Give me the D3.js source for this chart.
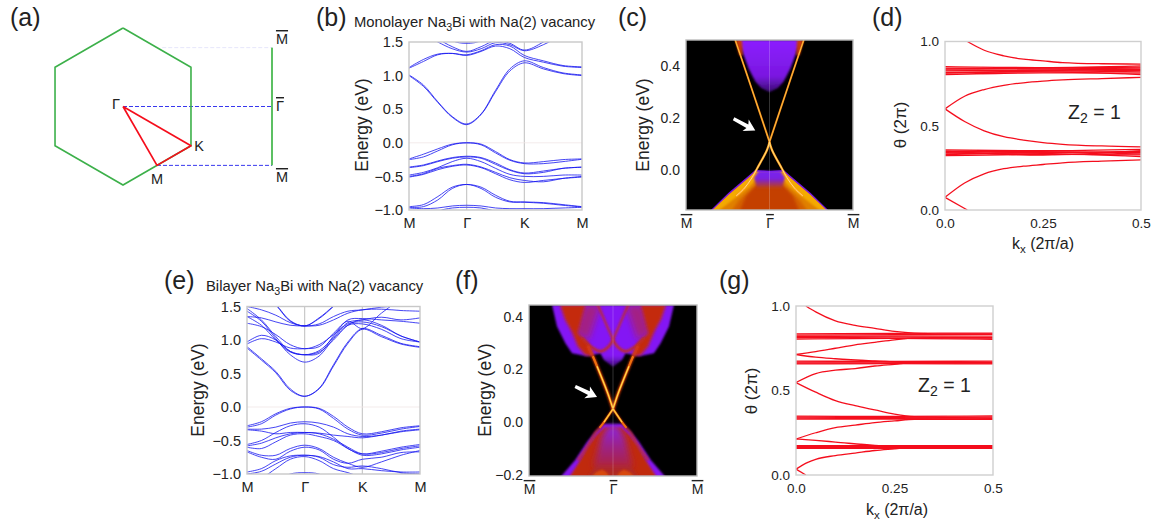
<!DOCTYPE html>
<html>
<head>
<meta charset="utf-8">
<script src="https://cdn.jsdelivr.net/npm/d3@7"></script>
<style>
body { margin: 0; background: #fff; }
text { font-family: "Liberation Sans", Arial, sans-serif; fill: #222; }
.bar { text-decoration: overline; }
</style>
</head>
<body>
<svg id="fig" width="1157" height="525"></svg>
<script>
// --- data ---
let pathTicks = [0, 1, 2, 3];
let pathLabels = ['M', 'Γ', 'K', 'M'];
let kSamples = [0, 0.25, 0.5, 0.75, 1, 1.25, 1.5, 1.75, 2, 2.33, 2.67, 3];
let energyTicks = [-1, -0.5, 0, 0.5, 1, 1.5];

let monoConduction = [
    [1.00, 0.84, 0.60, 0.38, 0.27, 0.42, 0.76, 1.07, 1.19, 1.10, 1.03, 1.00],
    [1.01, 0.86, 0.61, 0.39, 0.28, 0.43, 0.78, 1.10, 1.22, 1.12, 1.04, 1.01],
    [1.11, 1.21, 1.31, 1.33, 1.30, 1.36, 1.44, 1.40, 1.27, 1.20, 1.14, 1.12],
    [1.12, 1.24, 1.32, 1.33, 1.31, 1.37, 1.46, 1.44, 1.30, 1.22, 1.15, 1.13],
    [1.70, 1.62, 1.50, 1.40, 1.35, 1.40, 1.49, 1.46, 1.37, 1.46, 1.62, 1.80],
    [1.80, 1.70, 1.55, 1.43, 1.36, 1.43, 1.52, 1.48, 1.38, 1.50, 1.70, 1.90],
    [1.90, 1.80, 1.70, 1.52, 1.48, 1.52, 1.70, 1.80, 1.90, 1.90, 1.90, 1.90],
    [1.95, 1.85, 1.72, 1.54, 1.50, 1.54, 1.72, 1.85, 1.95, 1.95, 1.95, 1.95]
];
let monoValence = [
    [-0.24, -0.17, -0.09, -0.02, 0, -0.02, -0.13, -0.25, -0.30, -0.28, -0.25, -0.24],
    [-0.25, -0.21, -0.12, -0.03, 0, -0.03, -0.15, -0.26, -0.31, -0.31, -0.28, -0.245],
    [-0.36, -0.33, -0.27, -0.22, -0.20, -0.22, -0.30, -0.40, -0.45, -0.42, -0.38, -0.36],
    [-0.37, -0.34, -0.28, -0.23, -0.21, -0.23, -0.32, -0.41, -0.46, -0.44, -0.38, -0.365],
    [-0.48, -0.44, -0.37, -0.28, -0.23, -0.28, -0.38, -0.47, -0.50, -0.50, -0.48, -0.48],
    [-0.50, -0.46, -0.38, -0.34, -0.32, -0.36, -0.44, -0.52, -0.56, -0.58, -0.53, -0.50],
    [-0.51, -0.47, -0.40, -0.35, -0.33, -0.37, -0.46, -0.55, -0.59, -0.56, -0.53, -0.51],
    [-0.95, -0.92, -0.80, -0.66, -0.62, -0.66, -0.78, -0.87, -0.88, -0.89, -0.92, -0.95],
    [-0.96, -0.95, -0.85, -0.68, -0.62, -0.68, -0.81, -0.88, -0.885, -0.90, -0.93, -0.955],
    [-0.97, -0.98, -0.97, -0.94, -0.93, -0.94, -0.97, -0.98, -0.98, -0.98, -0.97, -0.96],
    [-1.30, -1.15, -1.02, -0.97, -0.96, -0.97, -1.02, -1.10, -1.10, -1.10, -1.10, -1.10]
];
let biConduction = [
    [0.90, 0.72, 0.53, 0.27, 0.16, 0.28, 0.63, 0.97, 1.17, 1.07, 0.95, 0.90],
    [0.88, 0.70, 0.51, 0.25, 0.16, 0.27, 0.61, 0.95, 1.16, 1.05, 0.94, 0.89],
    [1.25, 1.20, 1.08, 0.93, 0.87, 0.93, 1.08, 1.24, 1.27, 1.20, 1.06, 0.97],
    [1.35, 1.22, 1.00, 0.82, 0.78, 0.82, 1.00, 1.22, 1.30, 1.22, 1.06, 0.97],
    [1.43, 1.28, 1.02, 0.78, 0.67, 0.76, 1.02, 1.22, 1.24, 1.16, 1.02, 0.97],
    [1.47, 1.30, 1.05, 0.83, 0.78, 0.80, 1.06, 1.30, 1.32, 1.30, 1.28, 1.25],
    [0.97, 1.07, 1.00, 0.83, 0.78, 0.84, 1.04, 1.26, 1.30, 1.34, 1.30, 1.33],
    [0.94, 1.02, 0.97, 0.88, 0.87, 0.90, 1.10, 1.28, 1.17, 1.40, 1.60, 1.70],
    [1.35, 1.33, 1.27, 1.22, 1.21, 1.22, 1.30, 1.40, 1.45, 1.46, 1.44, 1.43],
    [1.90, 1.70, 1.52, 1.28, 1.21, 1.32, 1.50, 1.70, 1.80, 1.85, 1.90, 1.90],
    [1.92, 1.72, 1.53, 1.29, 1.21, 1.33, 1.51, 1.72, 1.82, 1.87, 1.92, 1.92],
    [1.50, 1.45, 1.37, 1.26, 1.21, 1.24, 1.35, 1.43, 1.45, 1.49, 1.51, 1.50]
];
let biValence = [
    [-0.28, -0.22, -0.10, -0.02, 0, -0.02, -0.14, -0.30, -0.40, -0.37, -0.31, -0.28],
    [-0.30, -0.25, -0.12, -0.03, 0, -0.03, -0.17, -0.33, -0.42, -0.39, -0.33, -0.29],
    [-0.33, -0.33, -0.30, -0.24, -0.22, -0.24, -0.30, -0.40, -0.44, -0.42, -0.36, -0.33],
    [-0.34, -0.36, -0.40, -0.38, -0.38, -0.39, -0.42, -0.44, -0.46, -0.42, -0.37, -0.34],
    [-0.56, -0.50, -0.38, -0.28, -0.25, -0.30, -0.45, -0.62, -0.70, -0.66, -0.60, -0.56],
    [-0.58, -0.54, -0.46, -0.40, -0.38, -0.40, -0.48, -0.60, -0.70, -0.68, -0.62, -0.58],
    [-0.60, -0.62, -0.52, -0.42, -0.40, -0.44, -0.50, -0.62, -0.72, -0.70, -0.64, -0.60],
    [-0.65, -0.72, -0.72, -0.62, -0.57, -0.62, -0.75, -0.84, -0.90, -0.82, -0.72, -0.65],
    [-0.67, -0.75, -0.78, -0.66, -0.60, -0.64, -0.78, -0.84, -0.78, -0.75, -0.68, -0.67],
    [-0.97, -0.92, -0.80, -0.73, -0.72, -0.74, -0.82, -0.92, -0.92, -0.95, -0.97, -0.97],
    [-1.00, -0.96, -0.85, -0.75, -0.72, -0.75, -0.86, -0.90, -0.88, -0.92, -0.98, -1.00],
    [-1.05, -1.05, -0.92, -0.78, -0.74, -0.80, -0.92, -0.98, -1.05, -1.10, -1.00, -1.00],
    [-1.25, -1.20, -1.10, -1.00, -0.98, -1.00, -1.10, -1.20, -1.20, -1.20, -1.20, -1.20]
];

// Wannier centre curves, [kx, theta]
let wccD = [
    [[0.057, 1], [0.1, 0.948], [0.15, 0.915], [0.2, 0.895], [0.25, 0.885], [0.3, 0.875], [0.4, 0.868], [0.5, 0.866]],
    [[0, 0.6], [0.05, 0.675], [0.1, 0.715], [0.15, 0.74], [0.2, 0.755], [0.25, 0.765], [0.3, 0.772], [0.4, 0.78], [0.5, 0.787]],
    [[0, 0.6], [0.05, 0.525], [0.1, 0.47], [0.15, 0.435], [0.2, 0.415], [0.25, 0.4], [0.3, 0.39], [0.4, 0.38], [0.5, 0.375]],
    [[0, 0.075], [0.05, 0.16], [0.1, 0.215], [0.15, 0.245], [0.2, 0.26], [0.25, 0.27], [0.3, 0.28], [0.4, 0.29], [0.5, 0.297]],
    [[0, 0.075], [0.057, 0]]
];
let flatD = [
    [0.851, 0.845, 0.855], [0.842, 0.838, 0.842], [0.826, 0.832, 0.835], [0.816, 0.824, 0.828],
    [0.804, 0.814, 0.812], [0.832, 0.828, 0.82], [0.812, 0.82, 0.804], [0.838, 0.842, 0.848],
    [0.356, 0.352, 0.36], [0.347, 0.346, 0.34], [0.333, 0.34, 0.348], [0.323, 0.33, 0.327],
    [0.34, 0.336, 0.317], [0.328, 0.344, 0.333], [0.35, 0.326, 0.352]
];
let wccG = [
    [[0.025, 1], [0.05, 0.965], [0.1, 0.912], [0.15, 0.886], [0.2, 0.868], [0.25, 0.85], [0.3, 0.84], [0.4, 0.835], [0.5, 0.835]],
    [[0, 0.713], [0.05, 0.73], [0.1, 0.75], [0.15, 0.77], [0.2, 0.785], [0.25, 0.8], [0.3, 0.81], [0.5, 0.81]],
    [[0, 0.713], [0.05, 0.697], [0.1, 0.688], [0.2, 0.675], [0.3, 0.665], [0.5, 0.665]],
    [[0, 0.547], [0.05, 0.6], [0.1, 0.62], [0.15, 0.63], [0.2, 0.645], [0.25, 0.655], [0.3, 0.665], [0.5, 0.665]],
    [[0, 0.547], [0.05, 0.49], [0.1, 0.44], [0.15, 0.41], [0.2, 0.385], [0.25, 0.36], [0.3, 0.345], [0.4, 0.34], [0.5, 0.335]],
    [[0, 0.213], [0.05, 0.25], [0.1, 0.28], [0.15, 0.295], [0.2, 0.31], [0.25, 0.32], [0.3, 0.33], [0.5, 0.33]],
    [[0, 0.213], [0.05, 0.205], [0.1, 0.195], [0.2, 0.175], [0.3, 0.165], [0.5, 0.165]],
    [[0, 0.035], [0.03, 0.075], [0.05, 0.093], [0.1, 0.115], [0.15, 0.13], [0.2, 0.145], [0.25, 0.155], [0.3, 0.165], [0.5, 0.165]],
    [[0, 0.035], [0.025, 0]]
];
let flatG = [
    [0.835, 0.838, 0.84], [0.828, 0.83, 0.832], [0.82, 0.822, 0.822], [0.812, 0.816, 0.812], [0.804, 0.808, 0.803],
    [0.674, 0.672, 0.674], [0.668, 0.668, 0.668], [0.662, 0.662, 0.662], [0.657, 0.659, 0.657],
    [0.348, 0.347, 0.35], [0.342, 0.341, 0.344], [0.336, 0.335, 0.338], [0.331, 0.331, 0.331],
    [0.174, 0.174, 0.174], [0.168, 0.168, 0.168], [0.162, 0.162, 0.162], [0.157, 0.158, 0.157]
];
let flatK = [0, 0.25, 0.5];

// Brillouin zone sketch, radius units
let hexagon = [[0, 1], [0.866, 0.5], [0.866, -0.5], [0, -1], [-0.866, -0.5], [-0.866, 0.5], [0, 1]];
let irreducible = [[0, 0], [0.866, -0.5], [0.433, -0.75], [0, 0]];
let projection = [[1.898, 0.75], [1.898, -0.75]];
let dashBlue = [[[0, 0], [1.898, 0]], [[0.433, -0.75], [1.898, -0.75]]];
let dashFaint = [[0.5, 0.75], [1.898, 0.75]];

// Spectral function outlines [k, E], right halves mirrored when drawn
let cBowl = [[0, 0.5], [0.38, 0.5], [0.32, 0.45], [0.25, 0.39], [0.17, 0.34], [0.1, 0.315], [0, 0.3]];
let cBowlEdge = [[0.33, 0.5], [0.41, 0.5], [0.36, 0.44], [0.32, 0.44]];
let cLowFringe = [[0, -0.004], [0.17, 0], [0.25, -0.022], [0.49, -0.088], [0.72, -0.16], [0, -0.16]];
let cLowYellow = [[0, -0.01], [0.17, -0.006], [0.25, -0.03], [0.49, -0.095], [0.7, -0.16], [0, -0.16]];
let cLowOrange = [[0, -0.03], [0.14, -0.03], [0.24, -0.065], [0.4, -0.105], [0.62, -0.16], [0, -0.16]];
let cLowMid = [[0, -0.05], [0.2, -0.07], [0.36, -0.115], [0.46, -0.16], [0, -0.16]];
let cLowRed = [[0, -0.05], [0.15, -0.055], [0.28, -0.1], [0.36, -0.16], [0, -0.16]];
let cCap = [[0, -0.004], [0.13, -0.004], [0.185, -0.03], [0.15, -0.07], [0, -0.07]];
let cDirac = [[0, 0.108], [0.03, 0.077], [0.148, 0.006], [0.21, -0.03], [0.3, -0.07], [0.4, -0.1]];
let cDiracUp = [[0, 0.108], [0.2, 0.3], [0.41, 0.5]];

let fPurple = [[0, 0.445], [0.726, 0.445], [0.667, 0.363], [0.567, 0.3], [0.488, 0.262], [0.31, 0.25], [0.15, 0.262], [0.11, 0.237], [0, 0.21]];
let fRedFade = [[0.15, 0.445], [0.35, 0.445], [0.46, 0.338], [0.29, 0.313]];
let fRedLobe = [[0.33, 0.445], [0.63, 0.445], [0.57, 0.389], [0.48, 0.338], [0.42, 0.288], [0.33, 0.255], [0.24, 0.25], [0.29, 0.3], [0.42, 0.338]];
let fArcUp = [[0, 0.313], [0.07, 0.364], [0.13, 0.408], [0.19, 0.45]];
let fArcLow = [[0, 0.313], [0.05, 0.288], [0.15, 0.269], [0.27, 0.288], [0.37, 0.319]];
let fDirac = [[0, 0.05], [0.063, 0.11], [0.19, 0.212], [0.24, 0.25], [0.3, 0.29]];
let fDiracLow = [[0, 0.05], [0.107, 0], [0.16, -0.022], [0.21, -0.04], [0.28, -0.08], [0.42, -0.145]];
let fLowPurple = [[0, -0.008], [0.11, -0.006], [0.21, -0.036], [0.31, -0.076], [0.45, -0.144], [0.627, -0.21], [0, -0.21]];
let fLowRed = [[0, -0.02], [0.1, -0.02], [0.2, -0.05], [0.29, -0.09], [0.4, -0.15], [0.52, -0.21], [0, -0.21]];
let fLowCore = [[0, -0.012], [0.07, -0.02], [0.14, -0.06], [0.2, -0.13], [0.24, -0.17], [0, -0.17]];
let fLowBase = [[0, -0.16], [0.2, -0.16], [0.3, -0.21], [0, -0.21]];
let fLowLobe = [[0.04, -0.21], [0.08, -0.19], [0.13, -0.18], [0.2, -0.19], [0.26, -0.21]];

let svg = d3.select('#fig');
let defs = svg.append('defs');
let clipCount = 0;

let addBlur = (id, dev) => {
    defs.append('filter').attr('id', id)
        .attr('x', '-30%').attr('y', '-30%').attr('width', '160%').attr('height', '160%')
        .append('feGaussianBlur').attr('stdDeviation', dev);
};
addBlur('soft', 0.45);
addBlur('blurS', 0.8);
addBlur('blurM', 1.6);
addBlur('blurL', 3);

let addGradient = (id, stops) => {
    let grad = defs.append('linearGradient').attr('id', id).attr('x1', 0).attr('x2', 0).attr('y1', 0).attr('y2', 1);
    stops.forEach(s => grad.append('stop').attr('offset', s[0]).attr('stop-color', s[1]));
};
addGradient('bowlGrad', [[0, '#8c1eff'], [0.7, '#7a18e0'], [1, '#3a0c70']]);
addGradient('capGrad', [[0, '#7a20f0'], [0.45, '#7a20e0'], [1, '#c24400']]);
addGradient('coreGrad', [[0, '#8a20e4'], [0.45, '#9a2090'], [1, '#ad2440']]);
addGradient('fillGrad', [[0, '#8418f4'], [0.82, '#8418f4'], [1, '#3c0c70']]);

// frame, clip, scales and axes shared by every plot
let makePanel = (box, xDomain, yDomain) => {
    let x = d3.scaleLinear().domain(xDomain).range([box.left, box.right]);
    let y = d3.scaleLinear().domain(yDomain).range([box.bottom, box.top]);
    let id = 'clip' + (clipCount++);
    defs.append('clipPath').attr('id', id).append('rect')
        .attr('x', box.left).attr('y', box.top)
        .attr('width', box.right - box.left).attr('height', box.bottom - box.top);
    let g = svg.append('g');
    let marks = g.append('g').attr('clip-path', `url(#${id})`);
    return { box, x, y, g, marks };
};

let drawFrame = (p, colour) => {
    p.g.append('rect')
        .attr('x', p.box.left).attr('y', p.box.top)
        .attr('width', p.box.right - p.box.left).attr('height', p.box.bottom - p.box.top)
        .attr('fill', 'none').attr('stroke', colour).attr('stroke-width', 1.4);
};

let drawAxes = (p, xTicks, xLabels, yTicks, yFormat, size, barred) => {
    let left = d3.axisLeft(p.y).tickValues(yTicks).tickSize(0).tickPadding(6).tickFormat(yFormat);
    let bottom = d3.axisBottom(p.x).tickValues(xTicks).tickSize(0).tickPadding(8).tickFormat((d, i) => xLabels[i]);
    let ya = p.g.append('g').attr('transform', `translate(${p.box.left},0)`).call(left);
    let xa = p.g.append('g').attr('transform', `translate(0,${p.box.bottom})`).call(bottom);
    [ya, xa].forEach(a => {
        a.select('.domain').remove();
        a.selectAll('text').style('font-size', size + 'px').attr('fill', '#222').style('font-family', null);
        a.attr('font-family', null);
    });
    if (barred) xa.selectAll('text').attr('class', 'bar');
};

let label = (x, y, text, size) =>
    svg.append('text').attr('x', x).attr('y', y).style('font-size', size + 'px').text(text);

let yTitle = (x, y, text, size) =>
    svg.append('text').attr('transform', `translate(${x},${y}) rotate(-90)`)
        .attr('text-anchor', 'middle').style('font-size', size + 'px').text(text);

let withSub = (sel, before, sub, after) => {
    sel.append('tspan').text(before);
    sel.append('tspan').attr('dy', 4).style('font-size', '0.72em').text(sub);
    sel.append('tspan').attr('dy', -4).text(after);
};

let drawBands = (box, conduction, valence) => {
    let p = makePanel(box, [0, 3], [-1, 1.5]);
    let line = d3.line().x((d, i) => p.x(kSamples[i])).y(d => p.y(d)).curve(d3.curveCatmullRom);
    [1, 2].forEach(k => {
        p.marks.append('line')
            .attr('x1', p.x(k)).attr('x2', p.x(k)).attr('y1', box.top).attr('y2', box.bottom)
            .attr('stroke', '#c4c4c4').attr('stroke-width', 1.1);
    });
    p.marks.append('line')
        .attr('x1', box.left).attr('x2', box.right).attr('y1', p.y(0)).attr('y2', p.y(0))
        .attr('stroke', '#f0e6e6').attr('stroke-width', 0.8);
    p.marks.append('g').attr('filter', 'url(#soft)')
        .selectAll('path').data(conduction.concat(valence)).enter().append('path')
        .attr('d', line).attr('fill', 'none').attr('stroke', '#1a1af0')
        .attr('stroke-width', 0.9).attr('stroke-opacity', 0.9);
    drawFrame(p, '#c8c8c8');
    drawAxes(p, pathTicks, pathLabels, energyTicks, d3.format('.1f'), 14.5, false);
    return p;
};

let drawWcc = (box, curves, flats, thetaTicks, kTicks, kLabels) => {
    let p = makePanel(box, [0, 0.5], [0, 1]);
    let line = d3.line().x(d => p.x(d[0])).y(d => p.y(d[1])).curve(d3.curveMonotoneX);
    let flatLines = flats.map(row => row.map((v, i) => [flatK[i], v]));
    p.marks.append('g').attr('filter', 'url(#soft)')
        .selectAll('path').data(curves.concat(flatLines)).enter().append('path')
        .attr('d', line).attr('fill', 'none').attr('stroke', '#f4101e').attr('stroke-width', 1.3);
    drawFrame(p, '#cfcfcf');
    drawAxes(p, kTicks, kLabels, thetaTicks, d3.format('.1f'), 13.5, false);
    return p;
};

// --- (a) Brillouin zone ---
let drawZone = () => {
    let x = d3.scaleLinear().domain([-1, 1]).range([44.5, 201.5]);
    let y = d3.scaleLinear().domain([-1, 1]).range([185, 28]);
    let line = d3.line().x(d => x(d[0])).y(d => y(d[1]));
    let g = svg.append('g').attr('filter', 'url(#soft)');
    g.append('path').attr('d', line(dashFaint)).attr('fill', 'none')
        .attr('stroke', '#e6e6fb').attr('stroke-width', 1).attr('stroke-dasharray', '4 2');
    g.selectAll('.dash').data(dashBlue).enter().append('path').attr('class', 'dash')
        .attr('d', line).attr('fill', 'none').attr('stroke', '#3838ee')
        .attr('stroke-width', 1).attr('stroke-dasharray', '4 2');
    g.append('path').attr('d', line(hexagon)).attr('fill', 'none').attr('stroke', '#3cb04a').attr('stroke-width', 1.6);
    g.append('path').attr('d', line(projection)).attr('fill', 'none').attr('stroke', '#5cc064').attr('stroke-width', 2);
    g.append('path').attr('d', line(irreducible)).attr('fill', 'none').attr('stroke', '#f5101c')
        .attr('stroke-width', 1.7).attr('stroke-linejoin', 'round');
    let mid = (text, px, py, bar) => {
        let t = svg.append('text').attr('x', px).attr('y', py).attr('text-anchor', 'middle')
            .style('font-size', '14.5px').text(text);
        if (bar) t.attr('class', 'bar');
    };
    mid('Γ', 116, 109, false);
    mid('K', 199, 151, false);
    mid('M', 157, 184, false);
    mid('M', 282, 44, true);
    mid('Γ', 280, 111, true);
    mid('M', 282, 182, true);
};

// --- spectral maps ---
let mirror = pts => pts.concat(pts.map(d => [-d[0], d[1]]).reverse());

let drawMap = (box, eDomain, eTicks, paint) => {
    let p = makePanel(box, [-1, 1], eDomain);
    let poly = d3.line().x(d => p.x(d[0])).y(d => p.y(d[1])).curve(d3.curveLinear);
    let smooth = d3.line().x(d => p.x(d[0])).y(d => p.y(d[1])).curve(d3.curveCatmullRom);
    p.marks.append('rect').attr('x', box.left).attr('y', box.top)
        .attr('width', box.right - box.left).attr('height', box.bottom - box.top).attr('fill', '#000');
    let fill = (pts, colour, blur, opacity) => p.marks.append('path').attr('d', poly(pts) + 'Z')
        .attr('fill', colour).attr('fill-opacity', opacity === undefined ? 1 : opacity)
        .attr('filter', `url(#${blur})`);
    let both = (pts, colour, blur, opacity) => {
        fill(pts, colour, blur, opacity);
        fill(pts.map(d => [-d[0], d[1]]), colour, blur, opacity);
    };
    let stroke = (pts, colour, w, blur) => {
        [1, -1].forEach(s => {
            p.marks.append('path').attr('d', smooth(pts.map(d => [s * d[0], d[1]])))
                .attr('fill', 'none').attr('stroke', colour).attr('stroke-width', w)
                .attr('filter', `url(#${blur})`);
        });
    };
    paint({ fill, both, stroke });
    p.marks.append('line').attr('x1', p.x(0)).attr('x2', p.x(0)).attr('y1', box.top).attr('y2', box.bottom)
        .attr('stroke', '#fff').attr('stroke-opacity', 0.2).attr('stroke-width', 1);
    drawFrame(p, '#bdbdbd');
    drawAxes(p, [-1, 0, 1], ['M', 'Γ', 'M'], eTicks, d3.format('.1f'), 14, true);
    return p;
};

let drawArrow = (p, from, to) => {
    let x1 = p.x(from[0]), y1 = p.y(from[1]), x2 = p.x(to[0]), y2 = p.y(to[1]);
    let a = Math.atan2(y2 - y1, x2 - x1);
    let g = svg.append('g').attr('transform', `translate(${x2},${y2}) rotate(${a * 180 / Math.PI})`);
    let len = Math.hypot(x2 - x1, y2 - y1);
    g.append('path').attr('d', `M0,0 L-11,-6.5 L-9,-2 L${-len},-1.6 L${-len},1.6 L-9,2 L-11,6.5 Z`).attr('fill', '#fff');
};

let mapC = drawMap({ left: 686, right: 853, top: 40, bottom: 210 }, [-0.154, 0.5], [0, 0.2, 0.4], m => {
    m.fill(mirror(cBowl), 'url(#bowlGrad)', 'blurS');
    m.both(cBowlEdge, '#c83a10', 'blurS');
    m.fill(mirror(cLowFringe), '#7a18e0', 'soft');
    m.fill(mirror(cLowYellow), '#f4aa00', 'soft');
    m.fill(mirror(cLowOrange), '#e08000', 'blurS');
    m.fill(mirror(cLowMid), '#d46000', 'blurM');
    m.fill(mirror(cLowRed), '#c44000', 'blurM');
    m.fill(mirror(cCap), 'url(#capGrad)', 'blurS');
    m.stroke(cDirac, '#ff9a20', 2.2, 'soft');
    m.stroke(cDirac, '#ffe27a', 1, 'soft');
    m.stroke(cDiracUp, '#e87810', 1.9, 'soft');
    m.stroke(cDiracUp, '#ffd050', 0.8, 'soft');
});
drawArrow(mapC, [-0.43, 0.197], [-0.17, 0.152]);

let mapF = drawMap({ left: 529, right: 697, top: 305, bottom: 476 }, [-0.205, 0.445], [-0.2, 0, 0.2, 0.4], m => {
    m.fill(mirror(fPurple), 'url(#fillGrad)', 'blurS');
    m.both(fRedFade, '#c22a10', 'blurL', 0.5);
    m.both(fRedLobe, '#c42a0c', 'blurM');
    m.stroke(fArcUp, '#c23018', 1.8, 'blurS');
    m.stroke(fArcLow, '#c23018', 2.4, 'blurS');
    m.fill(mirror(fLowPurple), '#8818f0', 'blurS');
    m.fill(mirror(fLowRed), '#c02a10', 'blurS');
    m.fill(mirror(fLowBase), '#b02a20', 'blurM');
    m.fill(mirror(fLowCore), 'url(#coreGrad)', 'blurL');
    m.both(fLowLobe, '#d84a08', 'blurS');
    m.stroke(fDirac, '#d83c0c', 3, 'blurS');
    m.stroke(fDirac.slice(0, 4), '#f07010', 2.2, 'soft');
    m.stroke(fDirac.slice(0, 3), '#ffe050', 1.1, 'soft');
    m.stroke(fDiracLow, '#c83010', 1.8, 'blurS');
    m.stroke(fDiracLow.slice(0, 3), '#f07010', 2, 'soft');
    m.stroke(fDiracLow.slice(0, 2), '#ffd040', 1.1, 'soft');
});
drawArrow(mapF, [-0.45, 0.135], [-0.19, 0.095]);

// --- the plots ---
drawZone();
let panelB = drawBands({ left: 409, right: 582, top: 42, bottom: 210 }, monoConduction, monoValence);
let panelE = drawBands({ left: 247, right: 420, top: 306.5, bottom: 474 }, biConduction, biValence);
drawWcc({ left: 945, right: 1141, top: 41.5, bottom: 210 }, wccD, flatD, [0, 0.5, 1], [0, 0.25, 0.5], ['0.0', '0.25', '0.5']);
drawWcc({ left: 796, right: 993, top: 306, bottom: 475 }, wccG, flatG, [0, 0.5, 1], [0, 0.25, 0.5], ['0.0', '0.25', '0.5']);

// --- text ---
[['(a)', 10, 26], ['(b)', 316, 26], ['(c)', 618, 26], ['(d)', 872, 26],
 ['(e)', 164, 289], ['(f)', 455, 289], ['(g)', 719, 289]].forEach(d => label(d[1], d[2], d[0], 25));

withSub(label(354, 27, '', 14.8), 'Monolayer Na', '3', 'Bi with Na(2) vacancy');
withSub(label(206, 291, '', 14.8), 'Bilayer Na', '3', 'Bi with Na(2) vacancy');

yTitle(368, 125, 'Energy (eV)', 17.5);
yTitle(649, 125, 'Energy (eV)', 17.5);
yTitle(204, 390, 'Energy (eV)', 17.5);
yTitle(491, 390, 'Energy (eV)', 17.5);
yTitle(906, 125, 'θ (2π)', 17);
yTitle(757, 391, 'θ (2π)', 17);

let kxD = svg.append('text').attr('x', 1043).attr('y', 249).attr('text-anchor', 'middle').style('font-size', '16px');
withSub(kxD, 'k', 'x', ' (2π/a)');
let kxG = svg.append('text').attr('x', 897).attr('y', 515).attr('text-anchor', 'middle').style('font-size', '16px');
withSub(kxG, 'k', 'x', ' (2π/a)');
withSub(label(1068, 119, '', 19.5), 'Z', '2', ' = 1');
withSub(label(918, 392, '', 19.5), 'Z', '2', ' = 1');
</script>
</body>
</html>
